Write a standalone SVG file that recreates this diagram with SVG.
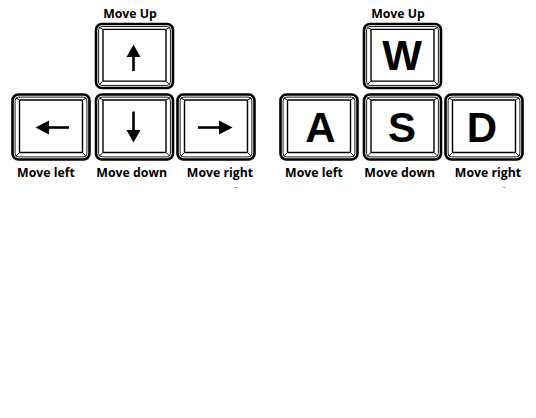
<svg xmlns="http://www.w3.org/2000/svg" width="536" height="418" viewBox="0 0 536 418">
<style>
.outer{fill:#fff;stroke:#000;stroke-width:2.6}
.bevel{fill:none;stroke:#000;stroke-width:0.9}
.face{fill:#fff;stroke:#000;stroke-width:1.4}
.diag{stroke:#000;stroke-width:1;fill:none}
.lbl{font-family:"Open Sans","Liberation Sans",Arial,sans-serif;font-weight:bold;font-size:12.3px;fill:#000;text-anchor:middle}
.big{font-family:"Liberation Sans",Arial,sans-serif;font-weight:bold;font-size:42px;fill:#000;text-anchor:middle}
.shaft{stroke:#000;stroke-width:2.6;fill:none}
.head{fill:#000}
.dash{stroke:#aaa;stroke-width:1}
</style>
<defs>
<g id="key">
<rect class="outer" x="0" y="0" width="77" height="65" rx="6"/>
<rect class="bevel" x="2.6" y="2.6" width="71.8" height="59.8" rx="3.5"/>
<rect class="face" x="7" y="5.5" width="63" height="52.5" rx="1"/>
<path class="diag" d="M3.6 3.6L7 5.5M73.4 3.6L70 5.5M3.6 61.4L7 58M73.4 61.4L70 58"/>
</g>
</defs>
<rect width="536" height="418" fill="#fff"/>
<g id="connectors"/>
<g id="arrow-keys">
<g id="key-up"><use href="#key" transform="translate(96,24) scale(1,0.985)"/>
<line class="shaft" x1="133.5" y1="55" x2="133.5" y2="71"/><polygon class="head" points="133.5,44.5 126.5,57 140.5,57"/></g>
<g id="key-left"><use href="#key" x="12.5" y="94.5"/>
<line class="shaft" x1="48" y1="127.5" x2="69" y2="127.5"/><polygon class="head" points="35.5,127.5 49,120.5 49,134.5"/></g>
<g id="key-down"><use href="#key" x="96" y="94.5"/>
<line class="shaft" x1="133.5" y1="111.5" x2="133.5" y2="131"/><polygon class="head" points="126.5,130 140.5,130 133.5,142.5"/></g>
<g id="key-right"><use href="#key" x="177.5" y="94.5"/>
<line class="shaft" x1="198" y1="127.5" x2="220" y2="127.5"/><polygon class="head" points="232.5,127.5 219,120.5 219,134.5"/></g>
<text class="lbl" x="130" y="18">Move Up</text>
<text class="lbl" x="46" y="176.5">Move left</text>
<text class="lbl" x="131.7" y="176.5">Move down</text>
<text class="lbl" x="220" y="176.5">Move right</text>
<line class="dash" x1="234.5" y1="187.5" x2="238" y2="187.5"/>
</g>
<g id="wasd-keys">
<g id="key-w"><use href="#key" transform="translate(364,24) scale(1,0.985)"/><text class="big" x="402" y="70">W</text></g>
<g id="key-a"><use href="#key" x="280.5" y="94.5"/><text class="big" x="320.5" y="142">A</text></g>
<g id="key-s"><use href="#key" x="364" y="94.5"/><text class="big" x="402" y="142">S</text></g>
<g id="key-d"><use href="#key" x="445.5" y="94.5"/><text class="big" x="482" y="142">D</text></g>
<text class="lbl" x="398" y="18">Move Up</text>
<text class="lbl" x="314" y="176.5">Move left</text>
<text class="lbl" x="399.7" y="176.5">Move down</text>
<text class="lbl" x="488" y="176.5">Move right</text>
<line class="dash" x1="502.5" y1="187.5" x2="506" y2="187.5"/>
</g>
</svg>
